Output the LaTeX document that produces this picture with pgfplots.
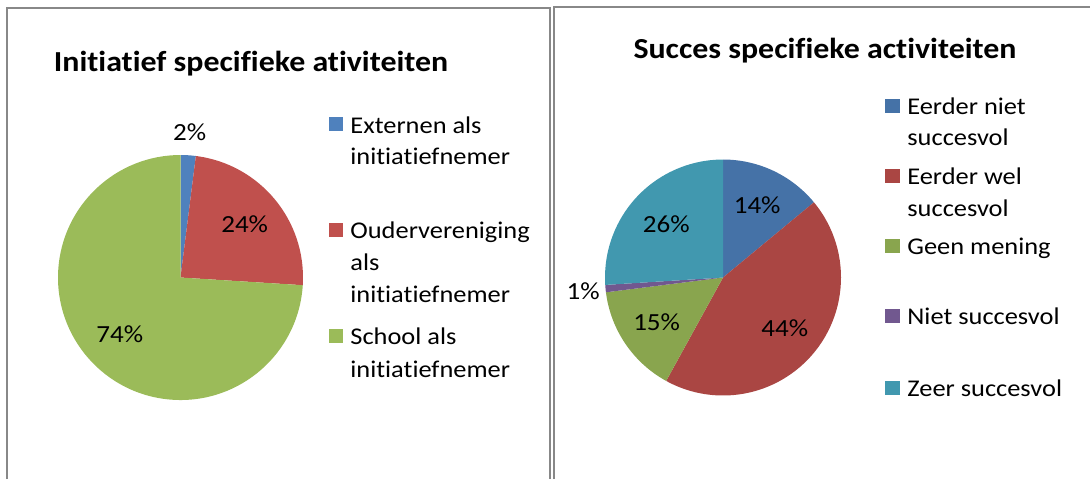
\documentclass[border=0pt]{standalone}
\usepackage{pgfplots}
\pgfplotsset{compat=1.18}
\usepackage{pgfplotstable}
\usepackage{fontspec}
\setmainfont{Carlito}[FakeStretch=1.1, Ligatures=NoCommon]

% Excel 2007 palette (left chart) and its darker variant (right chart)
\definecolor{pA}{HTML}{4F81BD}
\definecolor{pB}{HTML}{C0504D}
\definecolor{pC}{HTML}{9BBB59}
\definecolor{qA}{HTML}{4572A7}
\definecolor{qB}{HTML}{AA4643}
\definecolor{qC}{HTML}{89A54E}
\definecolor{qD}{HTML}{71588F}
\definecolor{qE}{HTML}{4198AF}
\definecolor{frame}{HTML}{888888}

% percentages, slice colour, label distance (fraction of radius)
\pgfplotstableread{
pct col lr
2   pA  1.19
24  pB  0.68
74  pC  0.68
}\initiatief

\pgfplotstableread{
pct col lr
14  qA  0.68
44  qB  0.68
15  qC  0.68
1   qD  1.19
26  qE  0.66
}\succes

\newcommand\lblfont{\fontsize{12.3}{14.8}\selectfont}
\newcommand\legfont{\fontsize{12}{14.4}\selectfont}
\newcommand\ttlfont{\fontsize{14.5}{17}\selectfont\bfseries}

% #1 table, #2/#3 centre (axis units), #4 radius in pt
\newcommand\drawpie[4]{%
  \pgfplotstablegetrowsof{#1}\let\nrows\pgfplotsretval
  \def\cum{0}%
  \pgfplotsforeachungrouped \i in {1,...,\nrows}{%
    \pgfmathtruncatemacro\rr{\i-1}%
    \pgfplotstablegetelem{\rr}{pct}\of{#1}\let\pct\pgfplotsretval
    \pgfplotstablegetelem{\rr}{col}\of{#1}\let\col\pgfplotsretval
    \pgfplotstablegetelem{\rr}{lr}\of{#1}\let\lr\pgfplotsretval
    \pgfmathsetmacro\a{90-3.6*\cum}%
    \pgfmathsetmacro\b{90-3.6*(\cum+\pct)}%
    \pgfmathsetmacro\m{(\a+\b)/2}%
    \pgfmathsetmacro\d{\lr*#4}%
    \edef\doit{%
      \noexpand\fill[\col] (axis cs:#2,#3) -- ++(\a:#4pt)
        arc[start angle=\a, end angle=\b, radius=#4pt] -- cycle;
      \noexpand\path (axis cs:#2,#3) ++(\m:\d pt)
        node[font=\noexpand\lblfont] {\pct\noexpand\%};
    }\doit
    \pgfmathsetmacro\cum{\cum+\pct}%
  }%
}

\newcommand\entry[3]{% x, baseline y, text
  \node[anchor=base west, font=\legfont, inner sep=0pt] at (axis cs:#1,#2) {#3};}

\begin{document}
\begin{tikzpicture}
\begin{axis}[
  name=ax, hide axis, clip=false,
  x=0.5pt, y=0.5pt, y dir=reverse,
  xmin=0, xmax=1090, ymin=0, ymax=479,
]
% panel frames
\draw[frame, line width=1pt] (axis cs:7,479) -- (axis cs:7,7.5) -- (axis cs:550,7.5) -- (axis cs:550,479);
\draw[frame, line width=1.4pt] (axis cs:554,479) -- (axis cs:554,7) -- (axis cs:1090,7);

% titles
\node[anchor=base, font=\ttlfont] at (axis cs:251,71) {Initiatief specifieke ativiteiten};
\node[anchor=base, font=\ttlfont] at (axis cs:825,58) {Succes specifieke activiteiten};

% pies
\drawpie{\initiatief}{180.5}{277.5}{61.25}
\drawpie{\succes}{723}{277.5}{59}

% legend, left
\fill[pA] (axis cs:329,117) rectangle (axis cs:343,131);
\entry{350}{133}{Externen als}
\entry{350}{164}{initiatiefnemer}
\fill[pB] (axis cs:329,223) rectangle (axis cs:343,237);
\entry{350}{238}{Oudervereniging}
\entry{350}{270}{als}
\entry{350}{302}{initiatiefnemer}
\fill[pC] (axis cs:329,329) rectangle (axis cs:343,343);
\entry{350}{344}{School als}
\entry{350}{377}{initiatiefnemer}

% legend, right
\fill[qA] (axis cs:885,99) rectangle (axis cs:900,113);
\entry{907}{114}{Eerder niet}
\entry{907}{145}{succesvol}
\fill[qB] (axis cs:885,169) rectangle (axis cs:900,183);
\entry{907}{184}{Eerder wel}
\entry{907}{216}{succesvol}
\fill[qC] (axis cs:885,239) rectangle (axis cs:900,253);
\entry{907}{254}{Geen mening}
\fill[qD] (axis cs:885,309) rectangle (axis cs:900,323);
\entry{907}{324}{Niet succesvol}
\fill[qE] (axis cs:885,381) rectangle (axis cs:900,395);
\entry{907}{396}{Zeer succesvol}
\end{axis}
\pgfresetboundingbox
\path (ax.south west) rectangle (ax.north east);
\end{tikzpicture}
\end{document}
